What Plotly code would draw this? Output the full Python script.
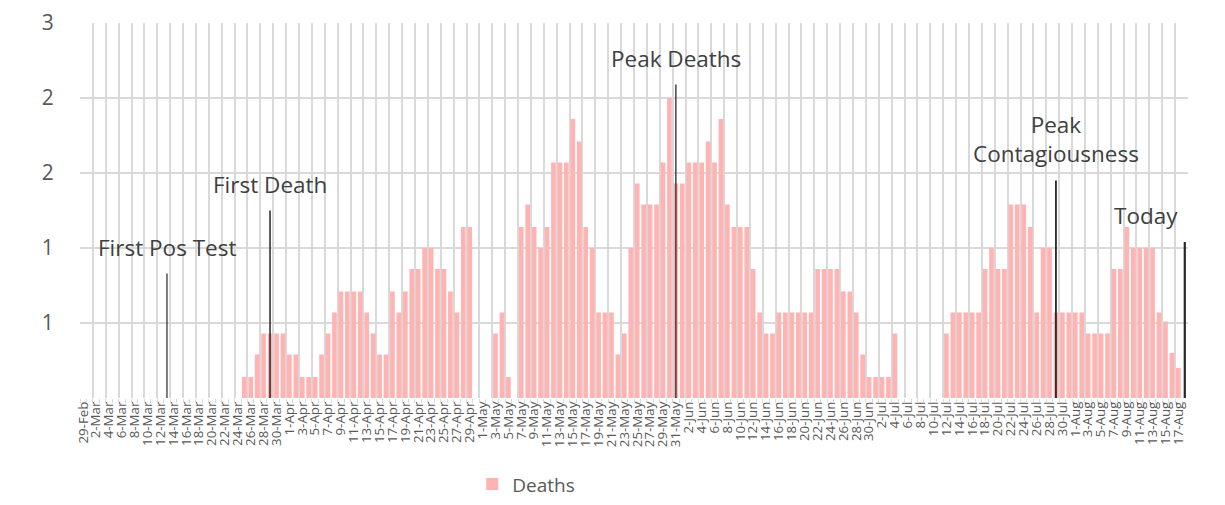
import numpy as np
import pandas as pd
import plotly.graph_objects as go

# ---------------- data ----------------
dates = pd.date_range("2020-02-29", "2020-08-17", freq="D")
day_labels = [f"{d.day}-{d.strftime('%b')}" for d in dates]

deaths = [
    # 29-Feb .. 24-Mar
    0, 0, 0, 0, 0, 0, 0, 0, 0, 0, 0, 0, 0, 0, 0, 0, 0, 0, 0, 0, 0, 0, 0, 0, 0,
    # 25-Mar ..
    0.14, 0.14, 0.29, 0.43, 0.43, 0.43, 0.43, 0.29, 0.29, 0.14, 0.14, 0.14,
    0.29, 0.43, 0.57, 0.71, 0.71, 0.71, 0.71, 0.57, 0.43, 0.29, 0.29, 0.71,
    0.57, 0.71, 0.86, 0.86, 1.00, 1.00, 0.86, 0.86, 0.71, 0.57, 1.14, 1.14,
    # 30-Apr .. 6-May
    -0.01, -0.01, -0.01, 0.43, 0.57, 0.14, 0,
    # 7-May ..
    1.14, 1.29, 1.14, 1.00, 1.14, 1.57, 1.57, 1.57, 1.86, 1.71, 1.14, 1.00,
    0.57, 0.57, 0.57, 0.29, 0.43, 1.00, 1.43, 1.29, 1.29, 1.29, 1.57, 2.00,
    # 31-May ..
    1.43, 1.43, 1.57, 1.57, 1.57, 1.71, 1.57, 1.86, 1.29, 1.14, 1.14, 1.14,
    0.86, 0.57, 0.43, 0.43, 0.57, 0.57, 0.57, 0.57, 0.57, 0.57, 0.86, 0.86,
    0.86, 0.86, 0.71, 0.71, 0.57, 0.29, 0.14, 0.14, 0.14, 0.14, 0.43,
    # 5-Jul .. 11-Jul
    0, 0, 0, 0, 0, 0, -0.01,
    # 12-Jul ..
    0.43, 0.57, 0.57, 0.57, 0.57, 0.57, 0.86, 1.00, 0.86, 0.86, 1.29, 1.29,
    1.29, 1.14, 0.57, 1.00, 1.00, 0.57, 0.57, 0.57, 0.57, 0.57, 0.43, 0.43,
    0.43, 0.43, 0.86, 0.86, 1.14, 1.00, 1.00, 1.00, 1.00, 0.57, 0.51, 0.30,
    0.20,
]

event_labels = ["First Pos Test", "First Death", "Peak Deaths",
                "Peak<br>Contagiousness", "Today"]
event_dates = ["2020-03-13", "2020-03-29", "2020-05-31", "2020-07-29", "2020-08-18"]
event_heights = [0.83, 1.25, 2.09, 1.45, 1.04]

y_tickvals = [0, 0.5, 1.0, 1.5, 2.0, 2.5]
y_ticktext = ["", "1", "1", "2", "2", "3"]

# styling per event label
event_widths = [1.2, 1.5, 1.3, 1.8, 2.2]
event_xanchor = ["center", "center", "center", "center", "right"]
event_xshift = [0, 0, 0, 0, -5]
event_yshift = [9, 9, 9, 10, 9]

# ---------------- figure ----------------
x_idx = np.arange(len(deaths))
start = pd.Timestamp(dates[0])
event_idx = [(pd.Timestamp(d) - start).days for d in event_dates]

GRID = "#D9D9D9"
TXT = "#595959"
FONT = "Open Sans"

fig = go.Figure()
fig.add_trace(go.Bar(
    x=x_idx, y=deaths, name="Deaths",
    marker=dict(color="#FFB3B3", line=dict(width=0)),
    hovertext=day_labels,
))
# invisible carrier trace for the tick-mark axis
fig.add_trace(go.Scatter(
    x=event_idx, y=event_heights, xaxis="x2", mode="markers",
    marker=dict(opacity=0), showlegend=False, hoverinfo="skip",
))

for lab, xi, h, w, xa, xs, ys in zip(event_labels, event_idx, event_heights,
                                     event_widths, event_xanchor, event_xshift,
                                     event_yshift):
    fig.add_shape(type="line", xref="x", yref="y", x0=xi, x1=xi, y0=0, y1=h,
                  line=dict(color="#262626", width=w), layer="above")
    fig.add_annotation(x=xi, y=h, xref="x", yref="y", text=lab, showarrow=False,
                       xanchor=xa, xshift=xs, yanchor="bottom", yshift=ys,
                       font=dict(family=FONT, size=22.5, color="#404040"))

xrange = [-0.5, len(deaths) + 0.5]
boundaries = np.arange(-0.5, len(deaths) - 0.5, 1.0)

fig.update_layout(
    width=1225, height=505,
    margin=dict(l=80, r=37, t=23, b=107, autoexpand=False),
    paper_bgcolor="white", plot_bgcolor="white",
    bargap=0.27,
    showlegend=True,
    legend=dict(orientation="h", x=0.354, xanchor="left", y=-0.23, yanchor="middle",
                font=dict(family=FONT, size=19, color=TXT)),
    xaxis=dict(
        range=xrange, tickmode="array",
        tickvals=list(x_idx[::2]), ticktext=day_labels[::2],
        tickangle=-90, tickfont=dict(family=FONT, size=13.3, color=TXT),
        showgrid=False, zeroline=False, showline=False, ticks="",
        minor=dict(tickmode="linear", tick0=-0.5, dtick=2,
                   showgrid=True, gridcolor=GRID, gridwidth=1.5, ticks=""),
        automargin=False, fixedrange=True,
    ),
    xaxis2=dict(
        range=xrange, overlaying="x", anchor="y", side="bottom",
        tickmode="array", tickvals=list(boundaries), ticks="outside",
        ticklen=4, tickcolor=GRID, tickwidth=1, showticklabels=False,
        showgrid=False, zeroline=False, showline=False, fixedrange=True,
        automargin=False,
    ),
    yaxis=dict(
        range=[0, 2.5], tickmode="array", tickvals=y_tickvals, ticktext=y_ticktext,
        showgrid=True, gridcolor=GRID, gridwidth=1.5, zeroline=False,
        ticks="outside", ticklen=21, tickcolor="rgba(0,0,0,0)",
        tickfont=dict(family=FONT, size=21, color=TXT), fixedrange=True,
        automargin=False,
    ),
)

fig.write_html("out.html", config={"displayModeBar": False},
               post_script="document.body.style.margin='0';document.body.style.padding='0';")
